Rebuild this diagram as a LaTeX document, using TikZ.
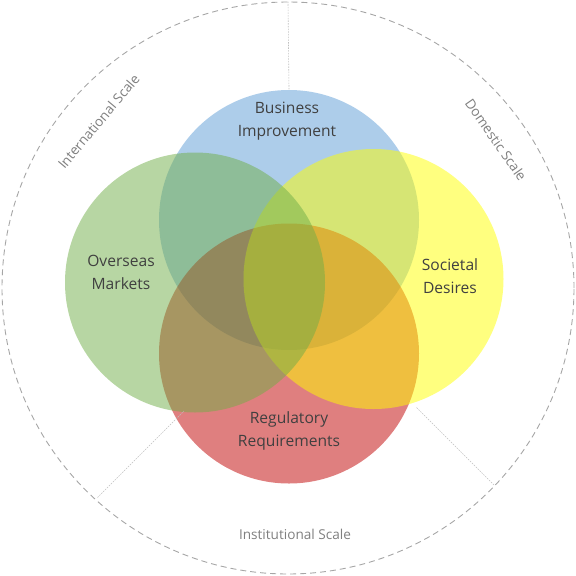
\documentclass[tikz,border=0pt]{standalone}
\usepackage{fontspec}
\setmainfont{Open Sans}
\definecolor{cblue}{HTML}{5B9BD5}
\definecolor{cgreen}{HTML}{70AD47}
\definecolor{cyellow}{HTML}{FFFF00}
\definecolor{cred}{HTML}{C00000}
\definecolor{txt}{HTML}{404040}
\definecolor{scaletxt}{HTML}{7F7F7F}
\definecolor{dashgray}{HTML}{A6A6A6}
\definecolor{dotgray}{HTML}{BFBFBF}
\tikzset{
  venn/.style={circle, minimum size=260pt, inner sep=0pt, fill opacity=0.5, draw=none},
  lbl/.style={align=center, text=txt, font=\fontsize{15.6}{23}\selectfont, inner sep=0pt},
  scalelbl/.style={text=scaletxt, font=\fontsize{13.6}{15}\selectfont, inner sep=0pt},
  outerring/.style={circle, draw=dashgray, line width=0.9pt, dash pattern=on 6pt off 4pt, minimum size=572pt, inner sep=0pt},
  divider/.style={draw=dotgray, line width=0.6pt, dash pattern=on 1.5pt off 1.2pt}
}
\begin{document}
\begin{tikzpicture}[x=1pt,y=-1pt]
\useasboundingbox (0,0) rectangle (576,576);
\node[outerring] (outer) at (288,288) {};
\node[venn, fill=cblue] (biz) at (289,220) {};
\node[venn, fill=cred] (reg) at (289,353.5) {};
\node[venn, fill=cyellow] (soc) at (373.5,279) {};
\node[venn, fill=cgreen] (ovs) at (195,282.5) {};
% dividers
\coordinate (llo) at (97.5,497.5);
\coordinate (lli) at (184,411);
\coordinate (lro) at (494,485);
\coordinate (lri) at (416,407);
\draw[divider] (outer.north) -- (biz.north);
\draw[divider] (llo) -- (lli);
\draw[divider] (lro) -- (lri);
% labels
\node[lbl] (tbiz) at (287,121.5) {Business\\Improvement};
\node[lbl] (tovs) at (121,272.5) {Overseas\\Markets};
\node[lbl] (tsoc) at (450,276.5) {Societal\\Desires};
\node[lbl] (treg) at (289,430.5) {Regulatory\\Requirements};
\node[scalelbl] (tinst) at (295,534) {Institutional Scale};
\node[scalelbl, rotate=50] (tint) at (98.6,121.5) {International Scale};
\node[scalelbl, rotate=-55] (tdom) at (496,140) {Domestic Scale};
\end{tikzpicture}
\end{document}
